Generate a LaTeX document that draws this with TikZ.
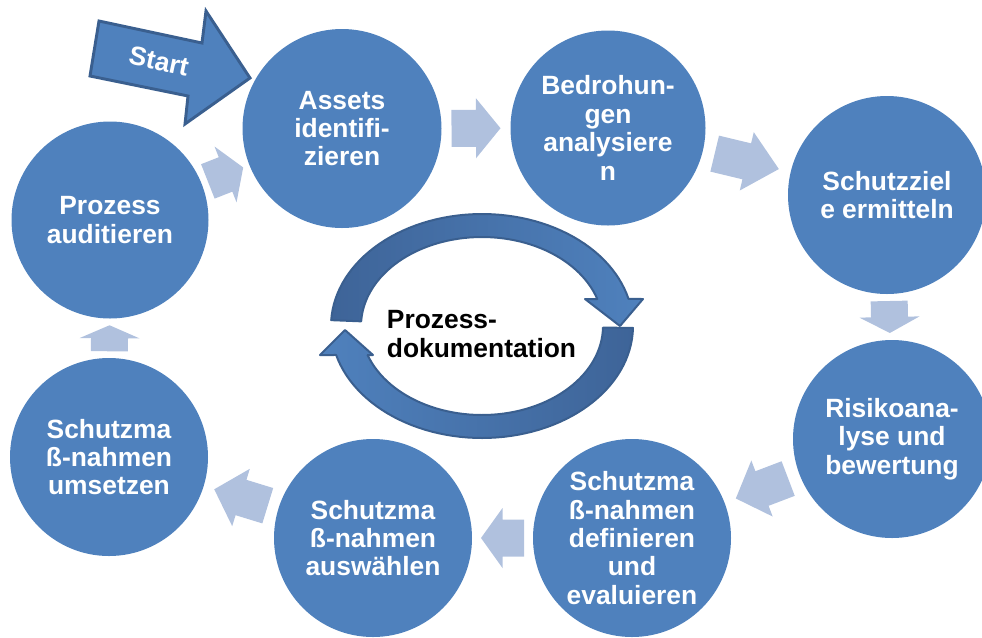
\documentclass[tikz,border=0pt]{standalone}
\usepackage{fontspec}
\setmainfont{Liberation Sans}
\usetikzlibrary{calc}
\definecolor{stepblue}{HTML}{4F81BD}
\definecolor{flowtint}{HTML}{B0C1DE}
\definecolor{edgeblue}{HTML}{3A5F8F}
\definecolor{ringdark}{HTML}{3E6498}
\tikzset{
  pics/flowarrow/.style={code={
    \fill[flowtint] (-#1/2,-18.5) -- (0,-18.5) -- (0,-30) -- (#1/2,0)
      -- (0,30) -- (0,18.5) -- (-#1/2,18.5) -- cycle;
  }}
}
\begin{document}
\begin{tikzpicture}[x=0.75pt,y=-0.75pt,
  stage/.style={circle, fill=stepblue, text=white, inner sep=0pt,
    minimum size=#1*0.75pt, align=center,
    font=\fontsize{19.8}{21.3}\selectfont\bfseries},
  stage/.default=198,
  link/.style={midway, sloped, allow upside down},
  ring/.style={draw=edgeblue, line width=1.5pt, line join=round}
]
\useasboundingbox (0,0) rectangle (982,637);
\clip (0,0) rectangle (982,637);

% process steps
\node[stage=199] (assets)  at (342,128.5) {Assets\\identifi-\\zieren};
\node[stage=195] (bedro)   at (608,128)   {Bedrohun-\\gen\\analysiere\\n};
\node[stage]     (ziele)   at (887,195)   {Schutzziel\\e ermitteln};
\node[stage]     (risiko)  at (892,439)   {Risikoana-\\lyse und\\bewertung};
\node[stage]     (defin)   at (632,538)   {Schutzma\\ß-nahmen\\definieren\\und\\evaluieren};
\node[stage]     (auswahl) at (373,538)   {Schutzma\\ß-nahmen\\auswählen};
\node[stage]     (umsetz)  at (109,457)   {Schutzma\\ß-nahmen\\umsetzen};
\node[stage=197] (audit)   at (110,220)   {Prozess\\auditieren};

% block arrows between the steps
\path (audit)   -- (assets)  pic[link]{flowarrow=38};
\path (assets)  -- (bedro)   pic[link]{flowarrow=49};
\path (bedro)   -- (ziele)   pic[link]{flowarrow=66};
\path (ziele)   -- (risiko)  pic[link]{flowarrow=32};
\path (risiko)  -- (defin)   pic[link]{flowarrow=56};
\path (defin)   -- (auswahl) pic[link]{flowarrow=43};
\path (auswahl) -- (umsetz)  pic[link]{flowarrow=56};
\path (umsetz)  -- (audit)   pic[link]{flowarrow=26};

% start arrow
\filldraw[fill=stepblue, draw=edgeblue, line width=2.2pt, line join=miter]
  (99,21) -- (202,43) -- (206,11) -- (250,78) -- (185,124) -- (188,96)
  -- (90,76) -- cycle;
\node[rotate=-12, text=white, font=\fontsize{19.8}{21.3}\selectfont\bfseries]
  (start) at (159,61) {Start};

% documentation cycle: upper arc
\shadedraw[ring, left color=ringdark, right color=stepblue]
  plot[domain=183:346, samples=60] ({482+151*cos(\x)},{326+112*sin(\x)})
  -- (643,299) -- (620,326) -- (585,299) -- (597,299)
  -- plot[domain=342.4:183, samples=60] ({482+121*cos(\x)},{326+89*sin(\x)})
  -- cycle;
% documentation cycle: lower arc
\shadedraw[ring, left color=stepblue, right color=ringdark]
  plot[domain=1:165, samples=60] ({482+151*cos(\x)},{326+112*sin(\x)})
  -- (320,355) -- (345,330) -- (373,355) -- (367.6,355)
  -- plot[domain=161:1, samples=60] ({482+121*cos(\x)},{326+89*sin(\x)})
  -- cycle;

\node[align=left, font=\fontsize{19.8}{21.5}\selectfont\bfseries]
  (doc) at (481.5,334) {Prozess-\\dokumentation};
\end{tikzpicture}
\end{document}
